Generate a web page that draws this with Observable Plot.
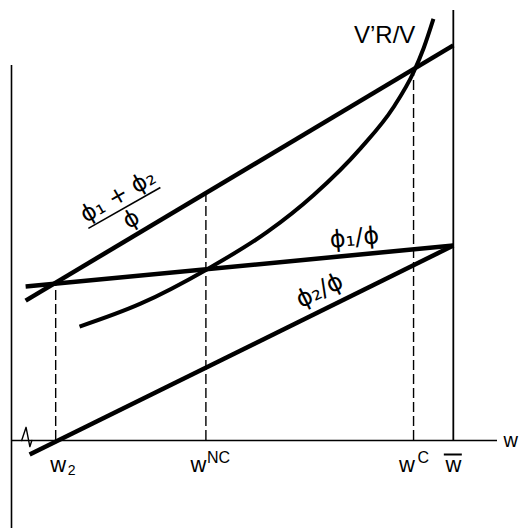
<!DOCTYPE html>
<html><head><meta charset="utf-8">
<script src="https://cdn.jsdelivr.net/npm/d3@7"></script>
<script src="https://cdn.jsdelivr.net/npm/@observablehq/plot@0.6"></script>
<style>
html,body{margin:0;padding:0;background:#fff;}
#chart svg{display:block;}
</style></head><body><div id="chart"></div>
<script>
// ---- data (schematic units: w̄ = 100) ----
const sumLineW = [3.2, 100];          // (ϕ1+ϕ2)/ϕ
const sumLineV = [31.8, 89.8];
const phi1W = [3.2, 100];             // ϕ1/ϕ
const phi1V = [35.0, 44.3];
const phi2W = [4.1, 100];             // ϕ2/ϕ
const phi2V = [-3.2, 44.3];
const vrvW = [15.4, 29.2, 44.4, 57.9, 68.4, 79.0, 86.5, 91.0, 93.3, 95.5];   // V'R/V
const vrvV = [25.9, 31.1, 39.0, 47.4, 55.8, 66.4, 75.8, 83.7, 89.2, 95.8];
const tickW = [10, 44, 91, 100];       // w2, wNC, wC, w̄
const guideTop = [35.7, 56.3, 83.6];   // heights where dashed guides end
const breakW = [2.3, 3.3, 4.15, 4.6];  // axis break mark
const breakV = [0, 3.0, -1.4, 0];

const zip = (xs, ys) => xs.map((x, i) => ({x, y: ys[i]}));
const sumLine = zip(sumLineW, sumLineV);
const phi1 = zip(phi1W, phi1V);
const phi2 = zip(phi2W, phi2V);
const vrv = zip(vrvW, vrvV);
const guides = guideTop.map((t, i) => ({x: tickW[i], top: t}));
const breakMark = zip(breakW, breakV);

const F = "'Liberation Sans', Arial, Helvetica, sans-serif";
const G = "'DejaVu Sans', 'Liberation Sans', sans-serif";
const thick = {x: "x", y: "y", strokeWidth: 4.5, strokeLinecap: "butt", stroke: "black"};
const lbl = (x, y, text, opts) => Plot.text([0], {x: () => x, y: () => y, text: () => text, fontFamily: F, fill: "black", ...opts});

const chart = Plot.plot({
  width: 519, height: 528,
  marginLeft: 11, marginRight: 22, marginTop: 0, marginBottom: 0,
  x: {domain: [0, 110], axis: null},
  y: {domain: [-20, 100], axis: null},
  style: {fontFamily: F, background: "white", color: "black"},
  marks: [
    Plot.ruleX([0], {y1: -20, y2: 85.2, strokeWidth: 1.6}),
    Plot.ruleY([0], {x1: 0, x2: 110, strokeWidth: 1.6}),
    Plot.ruleX([tickW[3]], {y1: 0, y2: 97.7, strokeWidth: 1.8}),
    Plot.ruleX(guides, {x: "x", y1: 0, y2: "top", strokeWidth: 1.4, strokeDasharray: "10,4"}),
    Plot.line(breakMark, {x: "x", y: "y", strokeWidth: 1.4}),
    Plot.line(sumLine, thick),
    Plot.line(phi1, thick),
    Plot.line(phi2, thick),
    Plot.line(vrv, {...thick, strokeWidth: 4, curve: "monotone-x"}),
    // curve labels
    lbl(91.4, 92.1, "V\u2019R/V", {textAnchor: "end", fontSize: 24}),
    lbl(77.6, 46.1, "\u03D5\u2081/\u03D5", {fontSize: 24, rotate: -5.5, fontFamily: G}),
    lbl(69.7, 34.1, "\u03D5\u2082/\u03D5", {fontSize: 24, rotate: -26, fontFamily: G}),
    lbl(24.1, 55.6, "\u03D5\u2081 + \u03D5\u2082", {fontSize: 23, rotate: -30, fontFamily: G}),
    lbl(27.1, 50.3, "\u03D5", {fontSize: 23, rotate: -30, fontFamily: G}),
    Plot.link([0], {x1: () => 17.4, y1: () => 48.2, x2: () => 33.7, y2: () => 57.5, strokeWidth: 1.6, stroke: "black"}),
    // axis labels
    Plot.text([tickW[0]], {x: d => d, y: 0, text: () => "w", dx: 2.5, dy: 24, fontSize: 22, fontFamily: F}),
    Plot.text([tickW[0]], {x: d => d, y: 0, text: () => "2", dx: 12, dy: 30, textAnchor: "start", fontSize: 14, fontFamily: F}),
    Plot.text([tickW[1]], {x: d => d, y: 0, text: () => "w", dx: -7.5, dy: 24, fontSize: 22, fontFamily: F}),
    Plot.text([tickW[1]], {x: d => d, y: 0, text: () => "NC", dx: 1, dy: 17.5, textAnchor: "start", fontSize: 16, fontFamily: F}),
    Plot.text([tickW[2]], {x: d => d, y: 0, text: () => "w", dx: -6.5, dy: 24, fontSize: 22, fontFamily: F}),
    Plot.text([tickW[2]], {x: d => d, y: 0, text: () => "C", dx: 4, dy: 17.5, textAnchor: "start", fontSize: 16, fontFamily: F}),
    Plot.text([tickW[3]], {x: d => d, y: 0, text: () => "w", dx: 0, dy: 24, fontSize: 22, fontFamily: F}),
    Plot.ruleY([0], {x1: tickW[3], x2: tickW[3], insetLeft: -9, insetRight: -9, dy: 14, strokeWidth: 2}),
    Plot.text([110], {x: d => d, y: 0, text: () => "w", dx: 6, textAnchor: "start", fontSize: 20, fontFamily: F})
  ]
});
document.getElementById("chart").appendChild(chart);
</script></body></html>
